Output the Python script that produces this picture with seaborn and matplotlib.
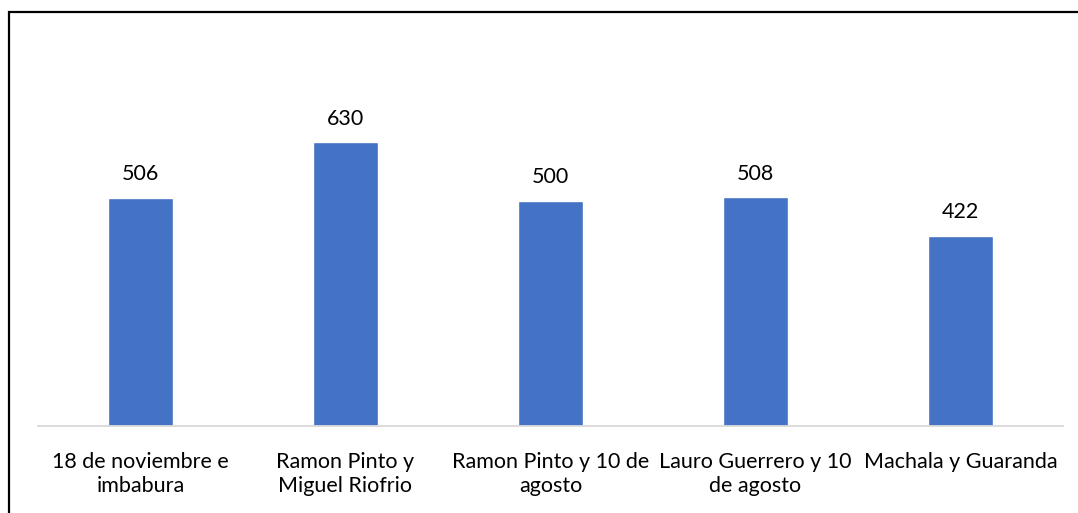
import pandas as pd
import matplotlib
matplotlib.use("Agg")
import matplotlib.pyplot as plt
import seaborn as sns
from matplotlib.patches import Rectangle

categories = ["18 de noviembre e\nimbabura", "Ramon Pinto y\nMiguel Riofrio",
              "Ramon Pinto y 10 de\nagosto", "Lauro Guerrero y 10\nde agosto",
              "Machala y Guaranda"]
values = [506, 630, 500, 508, 422]

df = pd.DataFrame({"lugar": categories, "total": values})

sns.set_style("white")
plt.rcParams['font.family'] = ['Lato', 'DejaVu Sans']

fig = plt.figure(figsize=(10.78, 5.13), dpi=100)
ax = fig.add_axes([38/1078, 87/513, 1025/1078, 315/513])

sns.barplot(data=df, x="lugar", y="total", color="#4472C4", width=0.317,
            saturation=1, ax=ax)

for i, v in enumerate(values):
    ax.annotate(str(v), (i, v), xytext=(0, 10), textcoords="offset points",
                ha="center", va="bottom", fontsize=15.5, color="#000000")

ax.set_ylim(0, 700)
ax.set_xlim(-0.5, 4.5)
ax.set_xlabel("")
ax.set_ylabel("")
ax.set_yticks([])
ax.tick_params(axis="x", length=0, pad=19, labelsize=15.5, labelcolor="#000000")
for lbl in ax.get_xticklabels():
    lbl.set_linespacing(1.25)
for s in ["top", "right", "left"]:
    ax.spines[s].set_visible(False)
ax.spines["bottom"].set_color("#d9d9d9")
ax.spines["bottom"].set_linewidth(1.3)

# outer frame
fig.patches.append(Rectangle((8.5/1078, -0.1), 1.2, (513 - 12.5)/513 + 0.1,
                             transform=fig.transFigure, fill=False,
                             edgecolor="black", linewidth=1.6))

fig.savefig("out.png", dpi=100)
